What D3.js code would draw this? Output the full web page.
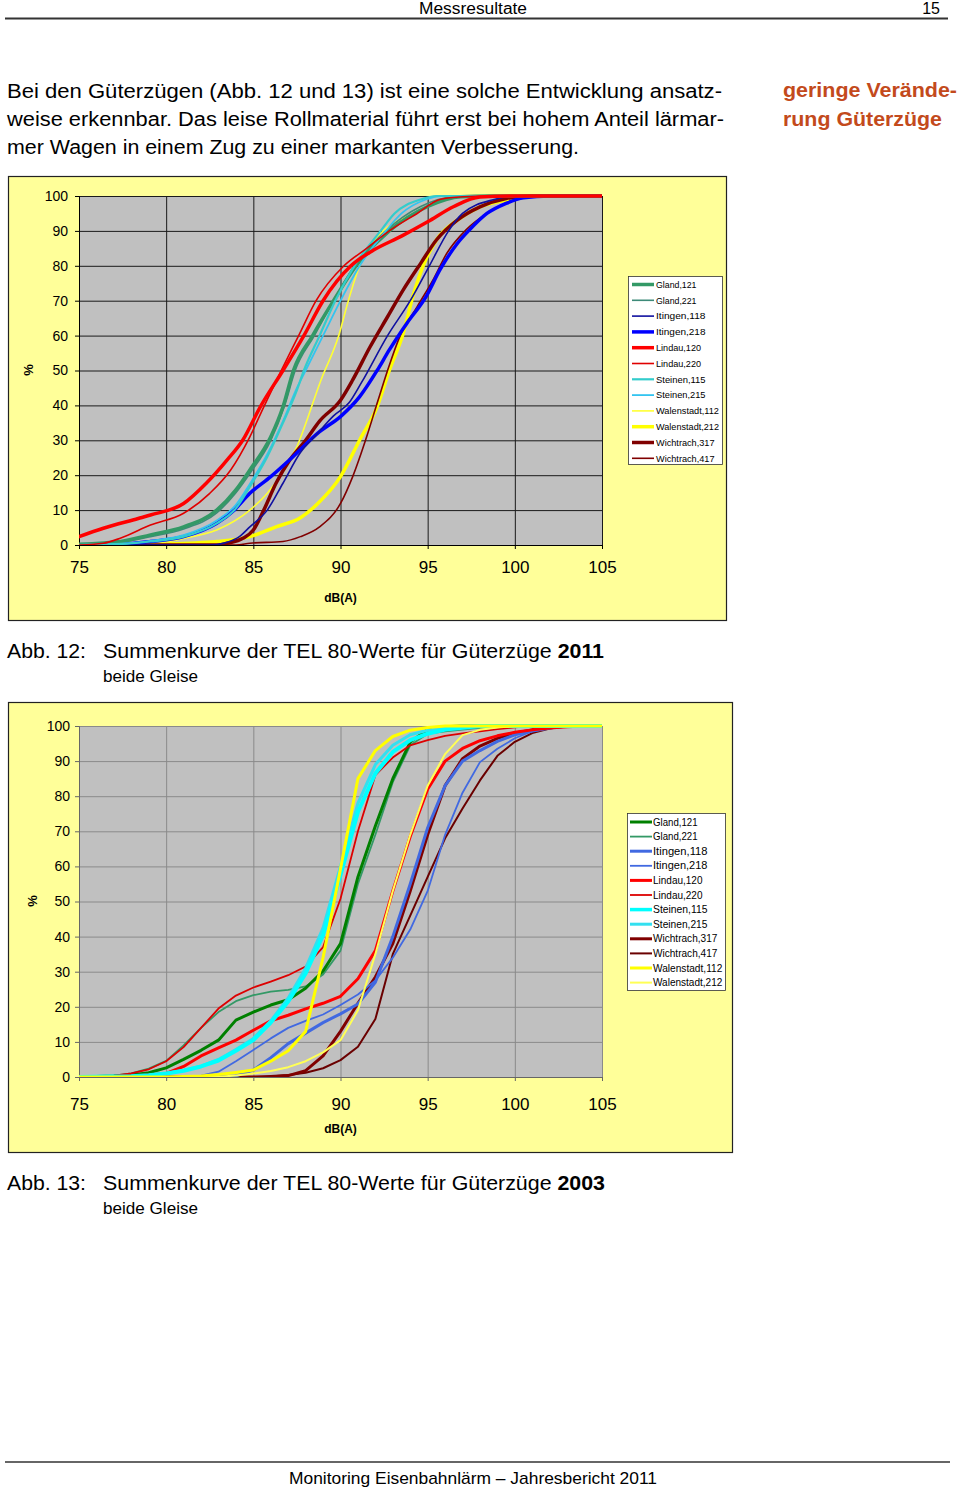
<!DOCTYPE html>
<html><head><meta charset="utf-8">
<script src="https://cdn.jsdelivr.net/npm/d3@7/dist/d3.min.js"></script>
<style>
body{margin:0;background:#fff;}
svg{display:block;font-family:"Liberation Sans",Arial,Helvetica,sans-serif;}
</style>
</head><body>
<svg id="page" width="960" height="1492"></svg>
<script>
// ---------------- DATA ----------------
const xTicks = [75, 80, 85, 90, 95, 100, 105];
const yTicks = [0, 10, 20, 30, 40, 50, 60, 70, 80, 90, 100];

const names2011 = ["Gland,121","Gland,221","Itingen,118","Itingen,218","Lindau,120","Lindau,220",
  "Steinen,115","Steinen,215","Walenstadt,112","Walenstadt,212","Wichtrach,317","Wichtrach,417"];
const names2003 = ["Gland,121","Gland,221","Itingen,118","Itingen,218","Lindau,120","Lindau,220",
  "Steinen,115","Steinen,215","Wichtrach,317","Wichtrach,417","Walenstadt,112","Walenstadt,212"];

// 2011 cumulative curves: [dB(A), %]
const gland121_2011 = [[75,0.2],[77.4,1],[79.1,2.9],[81,5.2],[82.9,10],[84,15.8],[84.8,21.5],[86,31],[86.7,39.6],[87.3,50],[88.4,60],[89.6,70],[90.9,80],[92.8,90],[95,97],[96.9,99.8],[98.5,100],[105,100]];
const gland221_2011 = [[75,0],[77.4,0.8],[79.1,2.4],[81,4.6],[82.9,9.2],[84,15],[84.8,20.5],[86,30],[86.8,40],[87.4,50],[88.5,60],[89.6,70],[90.8,80],[92.6,90],[94.6,97],[96.5,99.8],[98,100],[105,100]];
const itingen118_2011 = [[75,0],[82.5,0],[83.5,0.8],[84.2,2.4],[84.8,5.2],[85.8,10],[86.7,17.7],[87.7,26.5],[88.6,31.5],[89.6,37],[90.5,40.8],[91.2,46.5],[92.7,60],[94,70],[95.1,80],[96.2,90],[97,95],[98.8,99],[100,100],[105,100]];
const itingen218_2011 = [[75,0],[77.4,0.2],[79.1,1],[81,2.4],[82.9,6.2],[83.9,10],[84.8,14.8],[86,19.6],[87.1,24.5],[88.8,32.5],[90,36.8],[91.1,42.5],[92.1,50],[92.8,55.9],[93.8,63.5],[94.9,71.1],[95.7,78.8],[96.7,86.4],[97.4,90.3],[98.4,95],[99.5,97.9],[100.5,99.5],[102,100],[105,100]];
const lindau120_2011 = [[75,2.4],[76.4,4.8],[78.4,7.6],[79.1,8.6],[81,11.9],[82.3,17.7],[83.5,24.4],[84.4,30.1],[85.4,39.6],[86.7,50],[87.9,60],[89,70],[90.6,80],[91.9,84.5],[93.5,88.5],[95,92.6],[96.5,97],[98,99.7],[100,100],[105,100]];
const lindau220_2011 = [[75,0],[76.4,0.5],[77.4,2],[79.1,5.7],[81,9.1],[82.5,14.8],[83.7,21.5],[84.8,31],[85.6,39.6],[86.6,50],[87.6,60],[88.6,70],[90.2,80],[91.5,85],[92.8,90],[94.4,95],[95.7,99],[97,99.8],[98.5,100],[105,100]];
const steinen115_2011 = [[75,0],[77.4,0.3],[79.1,1],[81,2.4],[82.9,6.2],[84,10.5],[84.8,16.7],[85.8,25.3],[86.7,35],[87.5,44.4],[87.9,50],[88.8,60],[89.7,70],[90.8,80],[92.3,90],[93.1,95],[94.6,99],[95.5,100],[105,100]];
const steinen215_2011 = [[75,0],[77.4,0.3],[79.1,1.2],[81,2.8],[82.9,7],[84,11.5],[84.8,17.5],[85.8,26],[86.7,35.5],[87.5,45],[88,50],[89,60],[90,70],[91.1,80],[92.6,90],[93.5,95],[94.9,99],[95.8,100],[105,100]];
const walenstadt112_2011 = [[75,0],[79,0.3],[81,1.9],[82.9,4.3],[84.8,10],[85.8,14.8],[87.5,28.2],[88.9,47.5],[89.9,60],[90.45,70],[91.1,80],[92.1,88],[94.2,95],[97.2,100],[105,100]];
const walenstadt212_2011 = [[75,0],[80,0.3],[82.9,1],[84.8,2.4],[86.3,5.2],[87.7,7.8],[88.7,11.9],[90,19.6],[91.1,30.1],[92.1,39.6],[92.8,50],[93.6,60.7],[94.2,72.1],[94.8,80.7],[95.5,87.4],[96.7,93.1],[98,96.9],[99.5,98.8],[101,100],[105,100]];
const wichtrach317_2011 = [[75,0],[83,0],[83.5,0.5],[84.4,1.9],[85,4.3],[85.6,10],[86.3,17.7],[87.1,24.4],[88,30],[88.8,35.5],[90,41.5],[90.7,47.3],[91.7,56.8],[92.7,65.4],[93.6,73.1],[94.6,80.7],[95.5,87.4],[96.7,93.1],[98,96.9],[99.5,99.3],[101,100],[105,100]];
const wichtrach417_2011 = [[75,0],[84,0],[84.8,0.5],[86.7,1],[87.7,2.4],[88.8,5.2],[90,11.9],[90.7,19.6],[91.5,31],[92.1,40.6],[92.7,50],[93.4,59.7],[94.4,68.3],[95.3,75.9],[96.1,83.6],[97.2,90.3],[98.4,95],[99.7,98.4],[101,99.8],[102,100],[105,100]];

// 2003 cumulative curves: [dB(A), %]
const gland121_2003 = [[75,0],[77,0.3],[78,0.6],[79,1.2],[80,2.6],[81,5],[82,7.6],[83,10.5],[84,16.2],[85,18.5],[86,20.5],[87,22],[88,25.3],[89,30.2],[90,38],[91,57],[92,71.5],[93,85],[94,95.4],[95,99],[96,99.8],[97,100],[105,100]];
const gland221_2003 = [[75,0],[76,0.1],[77,0.4],[78,1],[79,2.4],[80,4.6],[81,9],[82,14],[83,18.5],[84,21.6],[85,23.3],[86,24.3],[87,24.8],[88,25.8],[89,29.2],[90,36],[91,55],[92,69],[93,84],[94,94.5],[95,97.8],[96,98.5],[97,99],[98,99.5],[99,99.8],[100,100],[105,100]];
const itingen118_2003 = [[75,0],[83,0],[84,0.3],[85,2],[86,5.5],[87,9.5],[88,12.5],[89,15.5],[90,18],[91,20.8],[92,27],[93,40],[94,55],[95,71],[96,83],[97,90],[98,93],[99,95.6],[100,97.5],[101,98.6],[102,99.4],[103,100],[105,100]];
const itingen218_2003 = [[75,0],[81,0],[82,0.4],[83,1.5],[84,4.5],[85,7.7],[86,11],[87,14],[88,16],[89,17.8],[90,20.5],[91,23.5],[92,27.5],[93,34],[94,42],[95,53],[96,69],[97,81],[98,89.7],[99,93.5],[100,96.5],[101,98.5],[102,99.4],[103,100],[105,100]];
const lindau120_2003 = [[75,0],[77,0.1],[78,0.3],[79,0.6],[80,1],[81,3],[82,6],[83,8.3],[84,10.5],[85,13.3],[86,16],[87,17.6],[88,19.4],[89,21],[90,23],[91,28],[92,36],[93,53],[94,68.5],[95,82],[96,90],[97,93.6],[98,95.8],[99,97.2],[100,98.2],[101,98.9],[102,99.4],[103,99.8],[104,100],[105,100]];
const lindau220_2003 = [[75,0],[76,0.1],[77,0.4],[78,1],[79,2.2],[80,4.5],[81,8.5],[82,14],[83,19.5],[84,23.2],[85,25.5],[86,27.2],[87,29],[88,31.5],[89,37],[90,50.8],[91,70],[92,86],[93,91],[94,94.5],[95,96],[96,97.2],[97,97.9],[98,98.5],[99,99.1],[100,99.6],[101,100],[105,100]];
const steinen115_2003 = [[75,0],[78,0.2],[79,0.5],[80,1],[81,1.8],[82,3],[83,4.7],[84,7.5],[85,10.5],[86,15.5],[87,21.5],[88,29.5],[89,40.4],[90,57.5],[91,75.5],[92,86.5],[93,92.6],[94,96],[95,97.8],[96,99],[97,99.5],[98,100],[105,100]];
const steinen215_2003 = [[75,0],[78,0.2],[79,0.5],[80,1],[81,1.9],[82,3.1],[83,5],[84,7.8],[85,11],[86,16],[87,22.5],[88,31],[89,42.5],[90,60],[91,78],[92,89],[93,94.5],[94,97.5],[95,98.8],[96,99.5],[97,100],[105,100]];
const wichtrach317_2003 = [[75,0],[86,0],[87,0.4],[88,1.8],[89,6],[90,13],[91,21],[92,28.5],[93,38],[94,53],[95,69],[96,83],[97,90.7],[98,94.3],[99,96.5],[100,98],[101,98.9],[102,99.5],[103,100],[105,100]];
const wichtrach417_2003 = [[75,0],[85,0],[86,0.3],[87,0.6],[88,1.2],[89,2.5],[90,4.8],[91,8.6],[92,16.5],[93,35],[94,46],[95,57],[96,68],[97,76.5],[98,84.5],[99,91.5],[100,95.5],[101,98],[102,99.3],[103,100],[105,100]];
const walenstadt112_2003 = [[75,0],[80,0],[82,0.3],[83,0.7],[84,1.3],[85,2],[86,4.5],[87,7.5],[88,13],[89,34],[90,59.3],[91,85],[92,93],[93,97],[94,98.8],[95,99.6],[96,100],[105,100]];
const walenstadt212_2003 = [[75,0],[82,0],[83,0.1],[84,0.4],[85,1],[86,1.7],[87,2.8],[88,4.5],[89,7],[90,10.5],[91,19],[92,35],[93,53],[94,69],[95,83],[96,92],[97,97.4],[98,98.9],[99,99.6],[100,100],[105,100]];

const series2011 = [gland121_2011, gland221_2011, itingen118_2011, itingen218_2011, lindau120_2011, lindau220_2011,
  steinen115_2011, steinen215_2011, walenstadt112_2011, walenstadt212_2011, wichtrach317_2011, wichtrach417_2011];
const series2003 = [gland121_2003, gland221_2003, itingen118_2003, itingen218_2003, lindau120_2003, lindau220_2003,
  steinen115_2003, steinen215_2003, wichtrach317_2003, wichtrach417_2003, walenstadt112_2003, walenstadt212_2003];

// ---------------- STYLES ----------------
const style2011 = [
  {c:"#339966", w:3.5}, {c:"#3d8a78", w:1.6}, {c:"#1010a0", w:1.6}, {c:"#0000ff", w:3.5},
  {c:"#ff0000", w:3.5}, {c:"#e00000", w:1.6}, {c:"#33cccc", w:2.2}, {c:"#33c4f0", w:1.8},
  {c:"#ffff33", w:1.6}, {c:"#ffff00", w:3.5}, {c:"#800000", w:3.5}, {c:"#800000", w:1.6}];
const style2003 = [
  {c:"#008000", w:3}, {c:"#339966", w:1.8}, {c:"#4169e1", w:3}, {c:"#4169e1", w:1.8},
  {c:"#ff0000", w:3}, {c:"#dd0000", w:1.8}, {c:"#00ffff", w:4}, {c:"#33e0f0", w:3},
  {c:"#800000", w:3}, {c:"#6a0000", w:2}, {c:"#ffff00", w:3}, {c:"#ffff55", w:2}];
const drawOrder2011 = [9, 8, 11, 10, 3, 2, 1, 0, 7, 6, 5, 4];
const drawOrder2003 = [9, 8, 3, 2, 1, 0, 5, 4, 7, 6, 11, 10];

// ---------------- PAGE ----------------
const svg = d3.select("#page");
svg.append("rect").attr("width",960).attr("height",1492).attr("fill","#fff");

function txt(x, y, s, size, opts = {}) {
  const t = svg.append("text").attr("x", x).attr("y", y).attr("font-size", size)
    .attr("fill", opts.fill || "#000").attr("text-anchor", opts.anchor || "start");
  if (opts.bold) t.attr("font-weight", "bold");
  if (opts.len) t.attr("textLength", opts.len).attr("lengthAdjust", "spacingAndGlyphs");
  t.text(s);
  return t;
}

// header
txt(419, 14, "Messresultate", 16, {len:108});
txt(940, 14, "15", 16, {anchor:"end"});
svg.append("line").attr("x1",5).attr("x2",948).attr("y1",18.5).attr("y2",18.5).attr("stroke","#333").attr("stroke-width",2);

// paragraph
txt(7, 98, "Bei den Güterzügen (Abb. 12 und 13) ist eine solche Entwicklung ansatz-", 20, {len:715});
txt(7, 126, "weise erkennbar. Das leise Rollmaterial führt erst bei hohem Anteil lärmar-", 20, {len:717});
txt(7, 154, "mer Wagen in einem Zug zu einer markanten Verbesserung.", 20, {len:572});
txt(783, 97, "geringe Verände-", 20, {bold:true, fill:"#c34a1c", len:174});
txt(783, 126, "rung Güterzüge", 20, {bold:true, fill:"#c34a1c", len:159});

// footer
svg.append("line").attr("x1",5).attr("x2",950).attr("y1",1462).attr("y2",1462).attr("stroke","#666").attr("stroke-width",2);
txt(289, 1484, "Monitoring Eisenbahnlärm – Jahresbericht 2011", 17, {len:368});

function drawChart(cfg) {
  const g = svg.append("g");
  g.append("rect").attr("x", cfg.bx).attr("y", cfg.by).attr("width", cfg.bw).attr("height", cfg.bh)
    .attr("fill", "#ffff99").attr("stroke", "#222").attr("stroke-width", 1.2);
  const x = d3.scaleLinear().domain([75, 105]).range([cfg.x0, cfg.x1]);
  const y = d3.scaleLinear().domain([0, 100]).range([cfg.y1, cfg.y0]);
  g.append("rect").attr("x", cfg.x0).attr("y", cfg.y0).attr("width", cfg.x1 - cfg.x0).attr("height", cfg.y1 - cfg.y0)
    .attr("fill", "#c0c0c0");
  // grid
  const gy = g.append("g").attr("transform", `translate(${cfg.x0},0)`)
    .call(d3.axisLeft(y).tickValues(yTicks).tickSize(-(cfg.x1 - cfg.x0)).tickFormat(""));
  gy.select(".domain").remove();
  gy.selectAll("line").attr("stroke", cfg.grid).attr("stroke-width", 1);
  const gx = g.append("g").attr("transform", `translate(0,${cfg.y1})`)
    .call(d3.axisBottom(x).tickValues(xTicks).tickSize(-(cfg.y1 - cfg.y0)).tickFormat(""));
  gx.select(".domain").remove();
  gx.selectAll("line").attr("stroke", cfg.grid).attr("stroke-width", 1);
  // axes with labels
  const ay = g.append("g").attr("transform", `translate(${cfg.x0},0)`)
    .call(d3.axisLeft(y).tickValues(yTicks).tickSize(4).tickPadding(cfg.yPad));
  ay.select(".domain").attr("stroke", cfg.axis);
  ay.selectAll("line").attr("stroke", cfg.axis);
  ay.selectAll("text").attr("font-size", 14).attr("fill", "#000").attr("font-family", "Liberation Sans, Arial, sans-serif");
  const ax = g.append("g").attr("transform", `translate(0,${cfg.y1})`)
    .call(d3.axisBottom(x).tickValues(xTicks).tickSize(4).tickPadding(cfg.xPad));
  ax.select(".domain").attr("stroke", cfg.axis);
  ax.selectAll("line").attr("stroke", cfg.axis);
  ax.selectAll("text").attr("font-size", 17).attr("fill", "#000").attr("font-family", "Liberation Sans, Arial, sans-serif");
  // curves
  const line = d3.line().x(d => x(d[0])).y(d => y(d[1])).curve(cfg.curve);
  const clipId = "clip" + cfg.id;
  g.append("clipPath").attr("id", clipId).append("rect")
    .attr("x", cfg.x0).attr("y", cfg.y0 - 3).attr("width", cfg.x1 - cfg.x0).attr("height", cfg.y1 - cfg.y0 + 3);
  const lg = g.append("g").attr("clip-path", `url(#${clipId})`);
  cfg.order.forEach(i => {
    lg.append("path").datum(cfg.series[i]).attr("d", line).attr("fill", "none")
      .attr("stroke", cfg.styles[i].c).attr("stroke-width", cfg.styles[i].w)
      .attr("stroke-linejoin", "round").attr("stroke-linecap", "round");
  });
  // axis titles
  g.append("text").attr("x", (cfg.x0 + cfg.x1) / 2).attr("y", cfg.dbY).attr("text-anchor", "middle")
    .attr("font-size", 12).attr("font-weight", "bold").text("dB(A)");
  g.append("text").attr("transform", `translate(${cfg.pctX},${cfg.pctY}) rotate(-90)`).attr("text-anchor", "middle")
    .attr("font-size", 13).attr("font-weight", "bold").text("%");
  // legend
  const L = cfg.legend;
  g.append("rect").attr("x", L.x).attr("y", L.y).attr("width", L.w).attr("height", L.h)
    .attr("fill", "#fff").attr("stroke", "#333").attr("stroke-width", 0.8);
  cfg.names.forEach((n, i) => {
    const yy = L.y0 + i * L.step;
    g.append("line").attr("x1", L.lx0).attr("x2", L.lx1).attr("y1", yy).attr("y2", yy)
      .attr("stroke", cfg.styles[i].c).attr("stroke-width", Math.min(cfg.styles[i].w, 3.5));
    g.append("text").attr("x", L.tx).attr("y", yy).attr("dy", "0.35em").attr("font-size", L.fs)
      .attr("textLength", n.length * L.cw).attr("lengthAdjust", "spacingAndGlyphs").text(n);
  });
}

drawChart({
  id: 1, bx: 8.5, by: 176.5, bw: 718, bh: 444,
  x0: 79, x1: 602, y0: 196, y1: 545, grid: "#1a1a1a", axis: "#000",
  yPad: 7, xPad: 12, curve: d3.curveMonotoneX,
  series: series2011, styles: style2011, names: names2011, order: drawOrder2011,
  dbY: 602, pctX: 33, pctY: 370,
  legend: {x: 628.5, y: 276.5, w: 94, h: 188, y0: 284.5, step: 15.8, lx0: 632, lx1: 654, tx: 656, fs: 9.5, cw: 4.5}
});

drawChart({
  id: 2, bx: 8.5, by: 702.5, bw: 724, bh: 450,
  x0: 79, x1: 602, y0: 726, y1: 1077, grid: "#8a8a8a", axis: "#666",
  yPad: 5, xPad: 17, curve: d3.curveLinear,
  series: series2003, styles: style2003, names: names2003, order: drawOrder2003,
  dbY: 1133, pctX: 37, pctY: 901,
  legend: {x: 627.5, y: 813.5, w: 98, h: 177, y0: 822, step: 14.6, lx0: 630, lx1: 652, tx: 653, fs: 10.5, cw: 4.95}
});

// captions
txt(7, 658, "Abb. 12:", 20, {len:79});
const c1 = svg.append("text").attr("x", 103).attr("y", 658).attr("font-size", 20)
  .attr("textLength", 501).attr("lengthAdjust", "spacingAndGlyphs");
c1.append("tspan").text("Summenkurve der TEL 80-Werte für Güterzüge ");
c1.append("tspan").attr("font-weight", "bold").text("2011");
txt(103, 682, "beide Gleise", 17, {len:95});
txt(7, 1190, "Abb. 13:", 20, {len:79});
const c2 = svg.append("text").attr("x", 103).attr("y", 1190).attr("font-size", 20)
  .attr("textLength", 502).attr("lengthAdjust", "spacingAndGlyphs");
c2.append("tspan").text("Summenkurve der TEL 80-Werte für Güterzüge ");
c2.append("tspan").attr("font-weight", "bold").text("2003");
txt(103, 1214, "beide Gleise", 17, {len:95});
</script>
</body></html>
